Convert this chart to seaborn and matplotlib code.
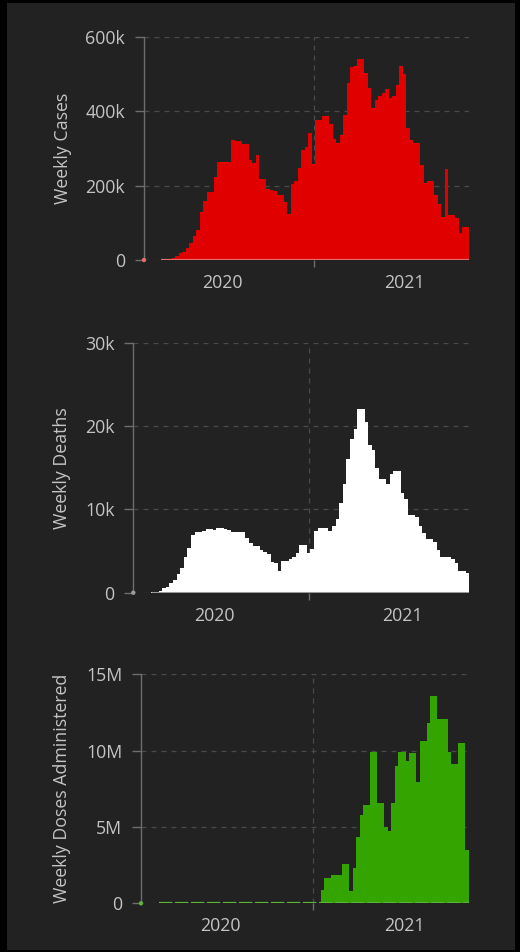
import numpy as np
import pandas as pd
import matplotlib
matplotlib.use("Agg")
import matplotlib.pyplot as plt
import matplotlib.dates as mdates
from matplotlib.patches import Rectangle
from matplotlib.ticker import FixedLocator, FixedFormatter
import seaborn as sns

nan = np.nan

# ---------------- data ----------------
week_start = "2020-01-26"
n_weeks = 93

weekly_cases = [
    0, nan, nan, nan, nan, 500, 1000, 2500,
    6000, 12000, 18000, 22000, 31000, 45000, 64000, 82000,
    128000, 159000, 184000, 184000, 222000, 264000, 264000, 264000,
    264000, 324000, 320000, 320000, 311000, 311000, 269000, 262000,
    282000, 218000, 218000, 191000, 187000, 186000, 175000, 175000,
    157000, 125000, 204000, 213000, 248000, 296000, 305000, 342000,
    257000, 376000, 376000, 388000, 388000, 367000, 325000, 315000,
    336000, 390000, 475000, 520000, 521000, 542000, 542000, 503000,
    463000, 410000, 430000, 440000, 448000, 461000, 437000, 440000,
    470000, 521000, 500000, 356000, 324000, 315000, 315000, 255000,
    206000, 213000, 213000, 175000, 152000, 116000, 244000, 121000,
    121000, 112000, 73000, 90000, 90000,
]

weekly_deaths = [
    0, nan, nan, nan, nan, 30, 60, 150,
    520, 720, 1120, 1520, 2240, 3000, 4320, 5320,
    6920, 7240, 7320, 7440, 7600, 7600, 7520, 7720,
    7720, 7700, 7500, 7320, 7240, 7240, 7240, 6520,
    6000, 5600, 5600, 5120, 4840, 4600, 3720, 3600,
    2640, 3800, 3800, 4000, 4320, 4720, 5720, 5720,
    4800, 5300, 7400, 7800, 7800, 7800, 7440, 8000,
    8800, 10800, 13100, 16100, 18400, 19600, 22000, 22000,
    20500, 17700, 17100, 15000, 13700, 13700, 13100, 14200,
    14600, 14600, 12000, 11200, 9300, 9300, 9100, 8000,
    7200, 6400, 6400, 6100, 5100, 4300, 4300, 4300,
    4000, 3600, 2640, 2640, 2400,
]

weekly_doses = [0, nan, nan, nan, nan] + [0] * 46 + [
    870000, 1640000, 1640000, 1860000, 1860000, 1860000, 2580000, 2580000,
    810000, 2340000, 4320000, 5790000, 6440000, 6440000, 9930000, 9930000,
    6590000, 6590000, 4980000, 4760000, 6590000, 9000000, 9930000, 9930000,
    9320000, 9830000, 9830000, 7970000, 10650000, 10650000, 11790000, 13580000,
    13580000, 12100000, 12100000, 12100000, 9930000, 9130000, 9130000, 10480000,
    10480000, 3490000,
]

year_labels = ["2020", "2021"]
year_label_dates = ["2020-07-01", "2021-07-01"]
year_boundary = ["2021-01-01"]

cases_ticks = [0, 200000, 400000, 600000]
cases_tick_labels = ["0", "200k", "400k", "600k"]
deaths_ticks = [0, 10000, 20000, 30000]
deaths_tick_labels = ["0", "10k", "20k", "30k"]
doses_ticks = [0, 5000000, 10000000, 15000000]
doses_tick_labels = ["0", "5M", "10M", "15M"]

# ---------------- style ----------------
sns.set_style("dark")
plt.rcParams["font.family"] = ["Open Sans", "DejaVu Sans"]
BG = "#222222"
TXT = "#c4c4c4"
AXC = "#6e6e6e"
GRID = "#4a4a4a"
FS = 12.8

W, H = 520, 952
fig = plt.figure(figsize=(W / 100, H / 100), dpi=100, facecolor="black")
fig.patches.append(Rectangle((7 / W, 2 / H), (515 - 7) / W, (950 - 3) / H,
                             transform=fig.transFigure, facecolor=BG,
                             edgecolor="none", zorder=-10))

edges = mdates.date2num(pd.date_range(week_start, periods=n_weeks + 1, freq="7D"))
xnum = edges[:-1]
centers = xnum + 3.5


def panel(rect_px, values, color, base_color, base_dash, base_lw, ticks, tick_labels,
          ylabel, label_x_px):
    left, top, right, bottom = rect_px
    ax = fig.add_axes([left / W, 1 - bottom / H, (right - left) / W, (bottom - top) / H])
    ax.set_facecolor("none")
    vals = np.array(values, dtype=float)
    df = pd.DataFrame({"week": centers, "value": vals}).dropna()
    sns.barplot(data=df, x="week", y="value", native_scale=True, width=1,
                color=color, saturation=1, errorbar=None, linewidth=0,
                antialiased=False, ax=ax, zorder=3)
    # zero outline of the area where data exist
    base = np.where(np.isnan(vals), nan, 0.0)
    base[0] = nan
    bx = np.append(xnum, edges[-1])
    by = np.append(base, base[-1])
    ax.plot(bx, by, drawstyle="steps-post", color=base_color, lw=base_lw,
            linestyle=base_dash, zorder=4, solid_capstyle="butt")
    sns.scatterplot(x=[xnum[0]], y=[vals[0]], color=base_color, s=10,
                    edgecolor="none", ax=ax, zorder=5, clip_on=False)

    ax.set_xlim(edges[0], edges[-1])
    ax.set_ylim(ticks[0], ticks[-1])
    ax.yaxis.set_major_locator(FixedLocator(ticks))
    ax.yaxis.set_major_formatter(FixedFormatter(tick_labels))
    ax.xaxis.set_major_locator(FixedLocator(mdates.date2num(pd.to_datetime(year_boundary))))
    ax.xaxis.set_major_formatter(FixedFormatter([""]))
    ax.xaxis.set_minor_locator(FixedLocator(mdates.date2num(pd.to_datetime(year_label_dates))))
    ax.xaxis.set_minor_formatter(FixedFormatter(year_labels))

    ax.tick_params(axis="y", which="major", length=6.5, width=1, color=AXC,
                   labelcolor=TXT, labelsize=FS, pad=7, left=True)
    ax.tick_params(axis="x", which="major", length=5, width=1, color=AXC,
                   bottom=True, direction="out")
    ax.tick_params(axis="x", which="minor", length=0, labelcolor=TXT,
                   labelsize=FS, pad=10, bottom=True)
    ax.grid(True, axis="y", color=GRID, lw=0.9, linestyle=(0, (4, 4)), zorder=1)
    ax.grid(True, axis="x", which="major", color=GRID, lw=0.9, linestyle=(0, (4, 4)), zorder=1)
    ax.set_axisbelow(True)
    for s in ["top", "right", "bottom"]:
        ax.spines[s].set_visible(False)
    ax.spines["left"].set_color(AXC)
    ax.spines["left"].set_linewidth(1)
    ax.set_xlabel("")
    ax.set_ylabel(ylabel, color=TXT, fontsize=FS)
    ax.yaxis.set_label_coords((label_x_px - left) / (right - left), 0.5)
    return ax


panel((144, 37, 469, 260), weekly_cases, "#e00000", "#e86a6a", "-", 1.6,
      cases_ticks, cases_tick_labels, "Weekly Cases", 72)
panel((133.3, 342.7, 469.3, 592.7), weekly_deaths, "#ffffff", "#9a9a9a", "-", 2.2,
      deaths_ticks, deaths_tick_labels, "Weekly Deaths", 71)
panel((141, 674.3, 469, 903.3), weekly_doses, "#34a400", "#5fb23a", (0, (6, 1.2)), 1.6,
      doses_ticks, doses_tick_labels, "Weekly Doses Administered", 71)

fig.savefig("out.png", dpi=100, facecolor="black")
